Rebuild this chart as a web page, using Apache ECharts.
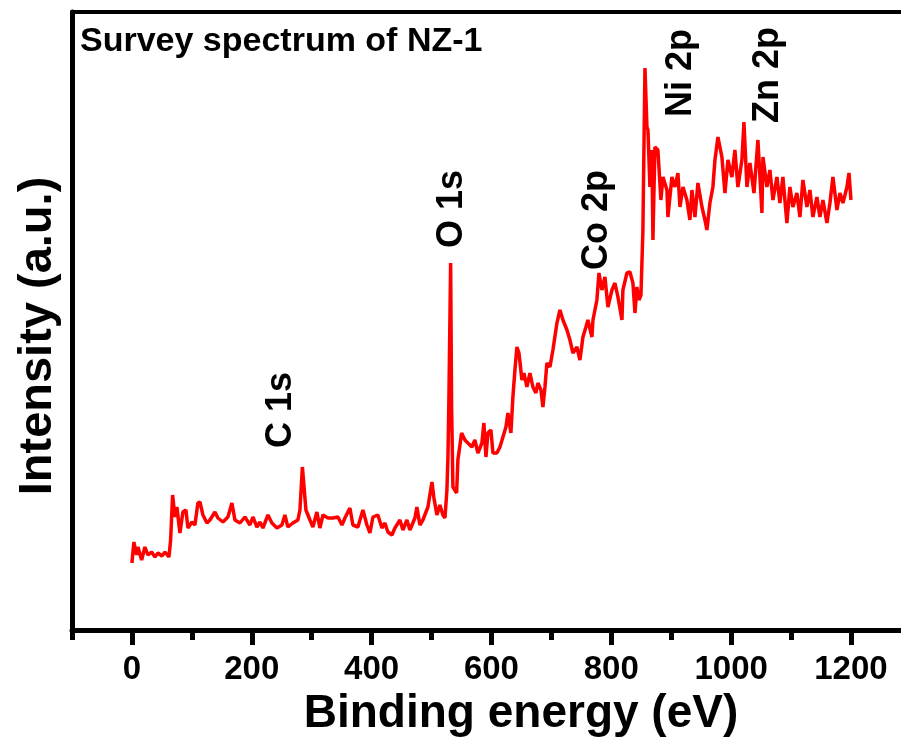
<!DOCTYPE html>
<html>
<head>
<meta charset="utf-8">
<script src="https://cdn.jsdelivr.net/npm/echarts@6/dist/echarts.min.js"></script>
<style>html,body{margin:0;padding:0;background:#fff;}#c{width:901px;height:739px;}</style>
</head>
<body>
<div id="c"></div>
<script>
// Binding energy (eV)
var energy = [0,3.3,7.8,10,16.2,21.7,26.7,32.9,38.4,43.4,50.1,55.1,61.8,64.6,67.9,71.8,75.1,80.1,85.1,90.1,93.5,100.1,105.1,110.1,113.5,118.5,125.2,130.2,138.5,143.5,151.9,160.2,166.9,171.9,180.2,188.6,196.9,201.9,208.6,213.6,218.6,227,233.6,242,250.3,255.3,260.3,268.7,277,280.4,284.5,290.4,297.1,302.1,308.7,313.7,318.8,327.1,335.4,343.8,350.5,355.5,363.8,368.8,377.2,385.5,392.2,397.2,402.2,410.5,417.2,422.2,427.2,433.9,438.9,447.3,452.3,458.9,463.9,472.3,475.6,480.6,485.6,494,500.7,504,509,514,519,522.4,525.7,527.4,529,531.9,533.5,535.7,541.9,544,550.2,555.7,560.7,567.4,572.4,577.4,584.1,587.4,590.8,594.1,599.1,602.5,609.1,614.2,619.2,624.2,627.5,632.5,635.8,639.2,642.5,645.9,650.9,654.2,659.2,664.2,669.2,674.2,677.6,682.6,685.9,689.3,692.6,697.6,702.6,709.3,714.3,719.3,726,731,736,742.7,747.7,752.7,757.7,761,767.7,769.4,776,779.4,784.4,789.4,794.4,801.1,806.1,811.1,817.8,819.4,826.1,831.1,836.1,839.5,842.8,846.2,849.5,852.8,856.2,859.5,861.2,864.5,867.8,869.5,872.8,877.8,882.8,886.2,892.9,894.5,901.2,906.2,911.2,914.6,919.6,926.2,931.2,934.6,939.6,944.6,951.3,956.3,959.6,964.6,969.6,973,978,984.6,989.7,994.7,1001.3,1006.3,1011.3,1018,1021.4,1026.4,1031.4,1038.1,1044.7,1051.4,1053.1,1059.7,1064.7,1069.8,1076.4,1081.4,1086.4,1093.1,1098.1,1103.1,1109.8,1114.8,1119.8,1126.5,1131.5,1136.5,1143.2,1148.2,1153.2,1159.9,1164.9,1169.9,1176.6,1181.6,1186.6,1193.3,1196.7,1200];
// Intensity (a.u.)
var intensity = [0.67,0.88,0.75,0.83,0.70,0.83,0.75,0.78,0.73,0.77,0.74,0.78,0.73,0.90,1.35,1.13,1.23,0.97,1.18,1.20,1.02,1.08,1.05,1.27,1.28,1.15,1.07,1.10,1.18,1.12,1.08,1.13,1.27,1.10,1.07,1.13,1.05,1.13,1.03,1.08,1.02,1.15,1.07,1.02,1.05,1.15,1.03,1.07,1.10,1.20,1.63,1.20,1.10,1.03,1.18,1.02,1.15,1.12,1.12,1.13,1.05,1.12,1.22,1.05,1.03,1.20,1.05,0.97,1.13,1.15,1.02,1.07,0.98,0.95,1.02,1.10,1.00,1.10,1.00,1.12,1.23,1.05,1.10,1.23,1.48,1.32,1.15,1.25,1.15,1.12,1.40,1.73,2.30,3.67,2.23,1.43,1.37,1.70,1.97,1.90,1.87,1.83,1.90,1.77,1.87,2.07,1.73,1.97,2.00,1.77,1.77,1.83,1.93,2.03,2.17,1.97,2.33,2.60,2.83,2.77,2.50,2.57,2.43,2.57,2.43,2.37,2.47,2.40,2.23,2.43,2.67,2.63,2.80,3.07,3.20,3.10,3.00,2.90,2.77,2.83,2.70,2.93,3.03,3.10,2.93,3.10,3.30,3.57,3.40,3.53,3.23,3.40,3.47,3.33,3.10,3.40,3.57,3.58,3.47,3.17,3.43,3.30,3.35,4.00,5.62,5.03,5.00,4.43,4.80,3.90,4.83,4.80,4.30,4.53,4.40,4.13,4.53,4.43,4.57,4.23,4.43,4.30,4.10,4.40,4.13,4.47,4.23,4.10,4.00,4.27,4.43,4.70,4.93,4.73,4.37,4.70,4.53,4.80,4.43,4.70,5.08,4.43,4.67,4.37,4.90,4.17,4.73,4.43,4.60,4.30,4.53,4.27,4.53,4.07,4.43,4.23,4.37,4.13,4.50,4.23,4.40,4.13,4.33,4.13,4.30,4.07,4.27,4.53,4.20,4.37,4.27,4.43,4.57,4.30];
// Peak annotations
var peakNames = ['C 1s','O 1s','Co 2p','Ni 2p','Zn 2p'];
var peakLabelE = [248.7,534,776,916,1061];
var peakLabelI = [2.20,4.21,4.10,5.57,5.55];
// Axis ticks
var majorTicks = [0,200,400,600,800,1000,1200];
var minorTicks = [-100,100,300,500,700,900,1100];
var titleText = 'Survey spectrum of NZ-1';

var FONT = 'Liberation Sans, Arial, sans-serif';
var X_MIN = -100, X_MAX = 1283.5;
var lineData = energy.map(function(e,i){return [e,intensity[i]];});
var labelData = peakNames.map(function(n,i){return {value:[peakLabelE[i],peakLabelI[i]],name:n};});

var chart = echarts.init(document.getElementById('c'), null, {renderer:'canvas'});
chart.setOption({
  animation:false,
  backgroundColor:'#fff',
  title:{text:titleText,left:80,top:25,padding:0,textStyle:{fontFamily:FONT,fontWeight:'bold',fontSize:34,color:'#000'}},
  grid:{left:72,right:0,top:12,bottom:109,show:false,containLabel:false,outerBoundsMode:'none'},
  xAxis:[{
    type:'value',min:X_MIN,max:X_MAX,position:'bottom',
    axisLine:{show:true,onZero:false,lineStyle:{color:'#000',width:5}},
    axisTick:{show:true,customValues:majorTicks,length:15,lineStyle:{color:'#000',width:5}},
    axisLabel:{show:true,customValues:majorTicks,margin:23,fontFamily:FONT,fontWeight:'bold',fontSize:33,color:'#000',
      formatter:function(v){return String(v);}},
    splitLine:{show:false},
    name:'Binding energy (eV)',nameLocation:'middle',nameGap:60,
    nameTextStyle:{fontFamily:FONT,fontWeight:'bold',fontSize:46,color:'#000',padding:[0,0,0,69]}
  },{
    type:'value',min:X_MIN,max:X_MAX,position:'bottom',
    axisLine:{show:false,onZero:false},
    axisTick:{show:true,customValues:minorTicks,length:10,lineStyle:{color:'#000',width:5}},
    axisLabel:{show:false},splitLine:{show:false}
  },{
    type:'value',min:X_MIN,max:X_MAX,position:'top',
    axisLine:{show:true,onZero:false,lineStyle:{color:'#000',width:4}},
    axisTick:{show:false},axisLabel:{show:false},splitLine:{show:false}
  }],
  yAxis:{
    type:'value',min:0,max:6.18,
    axisLine:{show:true,onZero:false,lineStyle:{color:'#000',width:5}},
    axisTick:{show:false},axisLabel:{show:false},splitLine:{show:false},
    name:'Intensity (a.u.)',nameLocation:'middle',nameGap:10,
    nameTextStyle:{fontFamily:FONT,fontWeight:'bold',fontSize:47,color:'#000',padding:[0,30,0,0]}
  },
  series:[{
    type:'line',data:lineData,showSymbol:false,symbol:'none',xAxisIndex:0,
    lineStyle:{color:'#ff0000',width:3.5},clip:false
  },{
    type:'scatter',data:labelData,symbolSize:0,silent:true,xAxisIndex:0,
    itemStyle:{opacity:1},
    label:{show:true,position:'inside',rotate:90,formatter:'{b}',fontFamily:FONT,fontWeight:'bold',fontSize:36,color:'#000',opacity:1,textBorderWidth:0}
  }]
});
</script>
</body>
</html>
